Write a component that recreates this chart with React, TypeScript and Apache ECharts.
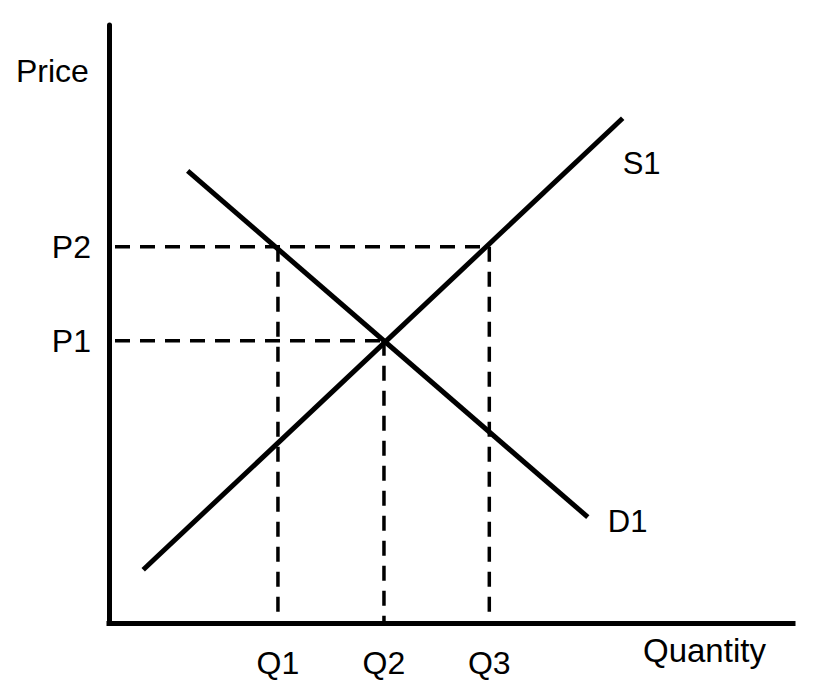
import React, { useEffect, useRef } from "react";
import * as echarts from "echarts";

// Quantity (x) and price (y) levels, axis range 0..10
const quantityNames = ["Q1", "Q2", "Q3"];
const quantityValues = [2.47, 4.02, 5.56];
const priceNames = ["P1", "P2"];
const priceValues = [4.72, 6.29];

// Curves: [quantity, price]
const supplyS1 = [
  [0.5, 0.89],
  [7.51, 8.44],
];
const demandD1 = [
  [1.15, 7.56],
  [7.0, 1.77],
];

const FONT = "Liberation Sans, Arial, Helvetica, sans-serif";

function nameFor(value: number, values: number[], names: string[]) {
  let best = 0;
  for (let i = 1; i < values.length; i++) {
    if (Math.abs(values[i] - value) < Math.abs(values[best] - value)) best = i;
  }
  return names[best];
}

export default function App() {
  const ref = useRef<HTMLDivElement>(null);

  useEffect(() => {
    document.body.style.margin = "0";
    if (!ref.current) return;
    const chart = echarts.init(ref.current, undefined, { renderer: "svg" });

    const [P1, P2] = priceValues;
    const [Q1, Q2, Q3] = quantityValues;

    const dashStyle = { color: "#000", width: 3.5, type: [15, 10] as number[] };

    const dashed = (data: number[][], offset: number) => ({
      type: "line",
      data,
      symbol: "none",
      silent: true,
      lineStyle: { ...dashStyle, dashOffset: offset },
      z: 2,
    });

    chart.setOption({
      animation: false,
      backgroundColor: "#fff",
      title: [
        {
          text: "Price",
          left: 16,
          top: 55,
          padding: 0,
          textStyle: { fontFamily: FONT, fontSize: 32, fontWeight: "normal", color: "#000" },
        },
        {
          text: "Quantity",
          left: 643,
          top: 634,
          padding: 0,
          textStyle: { fontFamily: FONT, fontSize: 33, fontWeight: "normal", color: "#000" },
        },
      ],
      grid: { left: 109, right: 32, top: 25, bottom: 75 },
      xAxis: {
        type: "value",
        min: 0,
        max: 10,
        splitLine: { show: false },
        axisTick: { show: false },
        axisLine: { show: true, lineStyle: { color: "#000", width: 5, cap: "square" } },
        axisLabel: {
          customValues: quantityValues,
          formatter: (v: number) => nameFor(v, quantityValues, quantityNames),
          fontFamily: FONT,
          fontSize: 32,
          color: "#000",
          margin: 24,
        },
      },
      yAxis: {
        type: "value",
        min: 0,
        max: 10,
        splitLine: { show: false },
        axisTick: { show: false },
        axisLine: { show: true, lineStyle: { color: "#000", width: 5 } },
        axisLabel: {
          customValues: priceValues,
          formatter: (v: number) => nameFor(v, priceValues, priceNames),
          fontFamily: FONT,
          fontSize: 32,
          color: "#000",
          margin: 18,
        },
      },
      series: [
        dashed([[0, P2], [Q3, P2]], 19),
        dashed([[0, P1], [Q2, P1]], 19),
        dashed([[Q1, P2], [Q1, 0]], 0),
        dashed([[Q2, P1], [Q2, 0]], 0),
        dashed([[Q3, P2], [Q3, 0]], 0),
        {
          type: "line",
          name: "S1",
          data: supplyS1,
          symbol: "none",
          lineStyle: { color: "#000", width: 5 },
          endLabel: {
            show: true,
            formatter: "S1",
            distance: 0,
            offset: [0, 45],
            fontFamily: FONT,
            fontSize: 31,
            color: "#000",
          },
          z: 3,
        },
        {
          type: "line",
          name: "D1",
          data: demandD1,
          symbol: "none",
          lineStyle: { color: "#000", width: 5 },
          endLabel: {
            show: true,
            formatter: "D1",
            distance: 0,
            offset: [20, 4],
            fontFamily: FONT,
            fontSize: 31,
            color: "#000",
          },
          z: 3,
        },
      ],
    });

    return () => chart.dispose();
  }, []);

  return <div ref={ref} style={{ width: 825, height: 698 }} />;
}
